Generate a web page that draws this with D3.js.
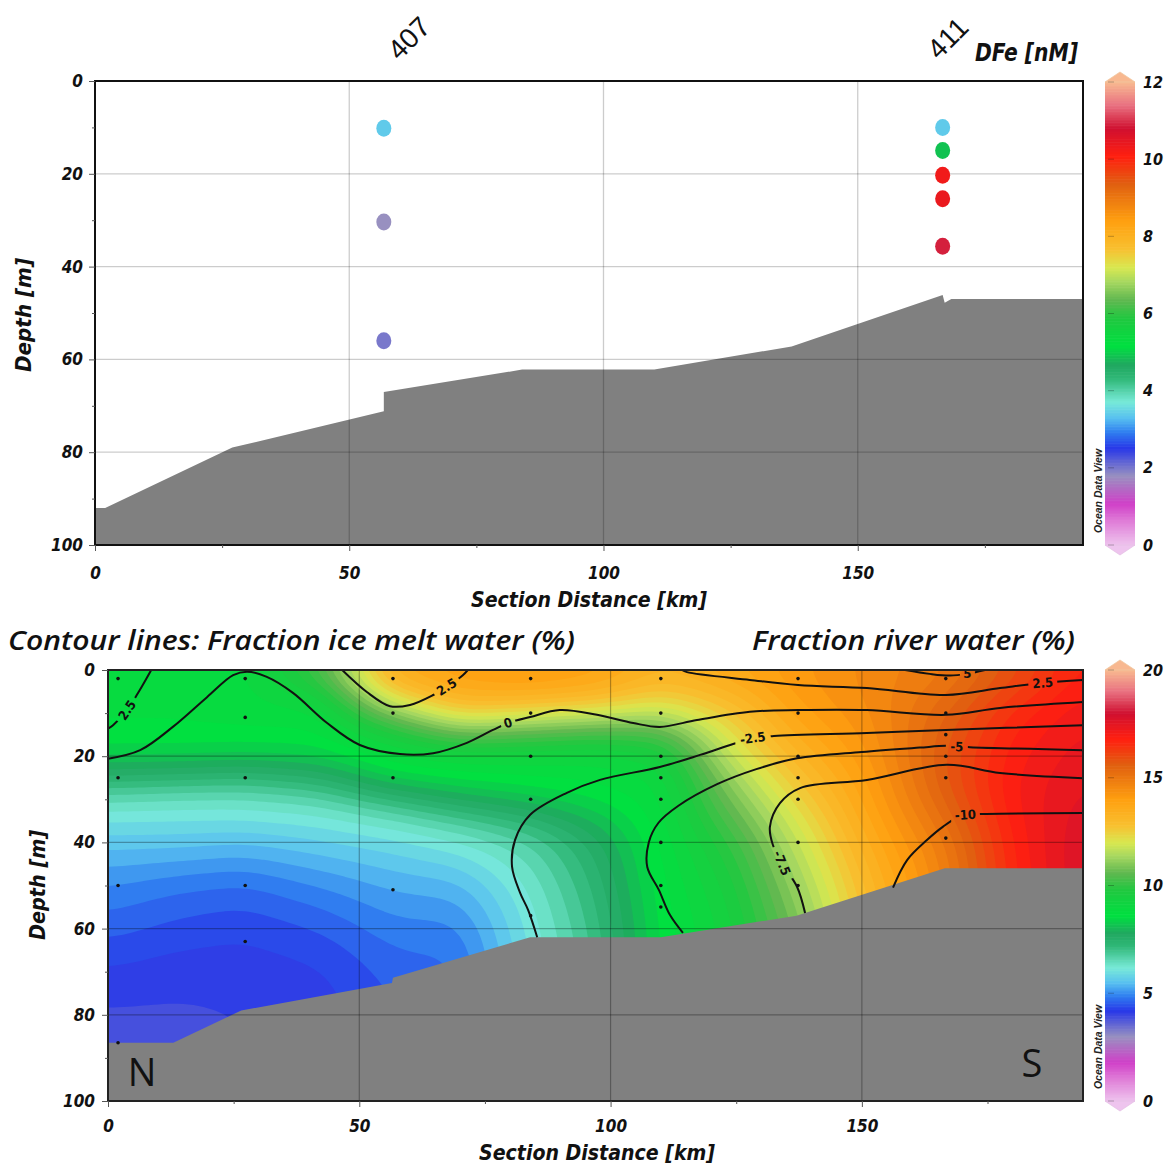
<!DOCTYPE html>
<html><head><meta charset="utf-8">
<script src="https://cdn.jsdelivr.net/npm/d3@7"></script>
<style>body{margin:0;background:#fff;}svg{display:block;}</style>
</head><body>
<svg id="chart" width="1167" height="1165"></svg>
<script>
// ---------------- DATA ----------------
// Top panel: dissolved iron (DFe, nM)
const feStationKm = [56.8, 56.8, 56.8, 166.7, 166.7, 166.7, 166.7, 166.7];
const feDepth     = [10.2, 30.4, 56.0, 10.0, 15.0, 20.3, 25.4, 35.6];
const feValue     = [3.4, 1.8, 2.0, 3.4, 4.9, 10.3, 10.4, 10.9];
const stationLabels = ["407", "411"];
const stationLabelKm = [56.8, 166.7];

// Bathymetry
const bathyTopKm    = [0, 2, 27, 56.8, 56.8, 84, 110, 137, 166.7, 167.1, 168.4, 194.3];
const bathyTopDepth = [92, 92, 79, 71.2, 67, 62.2, 62.2, 57.2, 46.1, 47.8, 47.0, 47.0];
const bathyBotKm    = [0, 13, 26.5, 56.5, 56.7, 84, 110, 137, 166.5, 194];
const bathyBotDepth = [86.5, 86.5, 79, 72.6, 71.4, 62, 62, 57, 46, 46];

// Bottom panel: fraction river water (%), gridded read-off (columns at km, rows at depth)
const riverKm    = [0, 14, 27, 42, 57, 70, 84, 97, 110, 124, 137, 152, 167, 180, 194];
const riverDepth = [0, 5, 10, 15, 20, 25, 30, 35, 40, 50, 60, 70, 80, 90];
const riverCols = [
  [8.8, 8.8, 8.8, 8.7, 8.4, 7.4, 6.5, 6.0, 5.6, 5.0, 4.6, 4.2, 3.95, 3.85],
  [8.8, 8.8, 8.8, 8.7, 8.4, 7.3, 6.4, 6.0, 5.6, 4.8, 4.4, 4.1, 3.95, 3.9],
  [8.9, 8.9, 8.9, 8.7, 8.3, 7.2, 6.4, 6.0, 5.5, 4.7, 4.3, 4.1, 4.0, 4.0],
  [10.5, 9.4, 8.9, 8.7, 8.4, 7.5, 6.6, 6.1, 5.7, 5.0, 4.5, 4.2, 4.1, 4.1],
  [13.8, 12.8, 11.0, 9.5, 8.9, 8.5, 7.2, 6.4, 5.9, 5.3, 4.9, 4.6, 4.5, 4.5],
  [14.0, 13.7, 12.6, 10.5, 9.0, 8.7, 7.8, 6.8, 6.2, 5.4, 4.9, 4.7, 4.6, 4.6],
  [14.2, 13.8, 12.2, 10.3, 9.0, 8.8, 8.2, 7.3, 6.7, 6.3, 6.1, 6.0, 6.0, 6.0],
  [14.0, 13.5, 12.0, 10.0, 9.0, 8.8, 8.6, 8.0, 7.6, 7.3, 7.1, 7.0, 7.0, 7.0],
  [13.4, 12.8, 11.6, 10.2, 9.3, 9.0, 8.9, 8.9, 8.8, 8.7, 8.6, 8.6, 8.6, 8.6],
  [13.8, 13.3, 12.7, 12.2, 11.8, 11.2, 10.8, 10.4, 10.0, 9.6, 9.4, 9.3, 9.3, 9.3],
  [14.2, 14.1, 13.9, 13.6, 13.2, 12.8, 12.4, 12.0, 11.7, 11.2, 10.8, 10.6, 10.6, 10.6],
  [14.6, 14.6, 14.5, 14.4, 14.3, 14.1, 14.0, 13.8, 13.6, 13.2, 13.0, 13.0, 13.0, 13.0],
  [14.9, 15.2, 15.5, 15.7, 15.8, 15.8, 15.6, 15.3, 15.0, 14.8, 14.8, 14.8, 14.8, 14.8],
  [15.8, 16.2, 16.6, 16.8, 16.9, 17.0, 17.0, 16.9, 16.8, 16.7, 16.7, 16.7, 16.7, 16.7],
  [16.8, 17.0, 17.2, 17.3, 17.4, 17.5, 17.6, 17.7, 17.8, 17.8, 17.8, 17.8, 17.8, 17.8]
];

// Sample positions (bottom panel)
const sampleKm = [2, 27.3, 56.7, 84.1, 110, 137.3, 166.7];
const sampleDepths = [
  [2, 25, 50, 86.5],
  [2, 11, 25, 50, 63],
  [2, 10, 25, 51],
  [2, 10, 20, 30, 57],
  [2, 10, 20, 25, 30, 40, 50, 55],
  [2, 10, 20, 25, 30, 40, 50],
  [2, 10, 15, 20, 25, 39]
];

// Ice melt contour lines (%), [km, depth]
const iceLevelP25a = [[8.6,0],[6.0,5.3],[3.8,9.3],[1.0,12.8],[0,13.6]];
const iceLevel0    = [[0,20.6],[6.4,18.6],[12.9,13.2],[19.7,6.3],[24.9,1.2],[27.7,0.4],[31.6,1.6],[36.8,5.3],[43.6,12.3],[50.1,17.4],[58.1,19.5],[64.7,19.3],[71.4,16.9],[76.6,13.9],[79.6,12.3],[84.0,10.9],[89.9,9.3],[97.3,10.4],[104.5,12.3],[109.8,13.2],[117.2,11.6],[127.7,9.7],[137.3,9.3],[151.0,9.3],[166.7,10.4],[177.5,8.8],[194,7.4]];
const iceLevelP25b = [[46.6,0],[51.5,5.1],[56.1,8.4],[60.1,8.1],[64.7,5.8],[67.4,3.9],[70.6,1.2],[71.6,0]];
const iceLevelP25c = [[114.2,0],[115.2,0.5],[127.7,2.3],[137.3,3.5],[151.0,4.2],[166.7,5.8],[177.5,4.2],[186.0,3.0],[194,2.3]];
const iceLevelP5   = [[158.6,0],[163.5,0.9],[167.5,1.3],[170.9,0.9],[174.5,0]];
const iceLevelM25  = [[85.4,62],[83.6,55.7],[82.0,51.7],[80.4,45.7],[81.0,39.4],[84.0,33.6],[91.3,28.5],[97.9,25.5],[109.8,22.5],[117.8,19.7],[123.8,17.4],[128.3,15.8],[132.5,15.3],[151.0,14.6],[166.7,13.9],[194,12.8]];
const iceLevelM5   = [[114.4,61],[111.8,56.8],[109.6,51],[107.3,45.7],[107.6,40],[109.5,35.5],[113.5,31.5],[121.2,26.5],[129,23],[137.1,20.5],[150,19],[161.5,18],[166.7,17.6],[168.9,17.7],[171.5,17.9],[194,18.6]];
const iceLevelM75  = [[138.7,56.4],[137.1,50.3],[134.1,44.8],[132.3,40.6],[131.7,36.4],[133.7,30.9],[137.7,27.4],[151,25.5],[166.9,22.0],[177.5,23.9],[194,25.1]];
const iceLevelM10  = [[156.2,50.5],[159,44.1],[163,39.4],[166.1,36.4],[170.1,33.6],[173.5,33.4],[194,33.2]];
const iceLines = [iceLevelP25a, iceLevel0, iceLevelP25b, iceLevelP25c, iceLevelP5, iceLevelM25, iceLevelM5, iceLevelM75, iceLevelM10];
const iceLabelText = ["2.5", "2.5", "0", "-2.5", "5", "2.5", "-5", "-7.5", "-10"];
const iceLabelKm   = [3.8, 67.4, 79.6, 128.3, 171.0, 186.0, 168.9, 134.1, 170.6];
const iceLabelDep  = [9.3, 3.9, 12.3, 15.8, 0.8, 3.0, 17.8, 44.8, 33.6];
const iceLabelRot  = [-55, -32, -18, -8, 0, -4, 2, 68, -3];

// Colour bar ticks
const feTicks = [0, 2, 4, 6, 8, 10, 12];
const riverTicks = [0, 5, 10, 15, 20];

// ODV-like colour map
const cmapT = [0.00, 0.05, 0.09, 0.15, 0.21, 0.245, 0.275, 0.31, 0.36, 0.39, 0.43, 0.49, 0.53, 0.57, 0.60, 0.64, 0.70, 0.78, 0.84, 0.90, 0.95, 1.00];
const cmapC = ["#eec4ee","#e080d8","#d040c8","#9890c0","#2838e8","#3080f0","#58c0f0","#78ead8","#30b878","#20a860","#00e040","#20c840","#60b850","#a8d860","#d8e850","#f8c030","#ffa010","#e06010","#ff2010","#d01030","#e87080","#f8b890"];

// ---------------- DRAW ----------------
const W = 1167, H = 1165;
const svg = d3.select("#chart");
const defs = svg.append("defs");
const axisFont = "'Liberation Sans Narrow','Arial Narrow','DejaVu Sans Condensed',sans-serif";
const makeColor = max => d3.scaleLinear().domain(cmapT.map(t => t * max)).range(cmapC).interpolate(d3.interpolateRgb).clamp(true);
const colorFe = makeColor(12), colorRiver = makeColor(20);

function styleAxis(g, size) {
  g.select(".domain").remove();
  g.selectAll(".tick line").attr("stroke", "#555").attr("stroke-width", 1);
  g.selectAll(".tick text").attr("font-family", axisFont).attr("font-weight", "bold")
    .attr("font-style", "italic").attr("font-size", size || 17).attr("fill", "#111");
}
function boldItalic(sel, size) {
  return sel.attr("font-family", axisFont).attr("font-weight", "bold").attr("font-style", "italic").attr("font-size", size).attr("fill", "#111");
}

// ===== TOP PANEL =====
const xT = d3.scaleLinear([0, 194.3], [95, 1083]);
const yT = d3.scaleLinear([0, 100], [81, 545]);
const gT = svg.append("g");
const areaT = d3.area().x(d => xT(d[0])).y0(yT(100)).y1(d => yT(d[1]));
gT.append("path").datum(d3.zip(bathyTopKm, bathyTopDepth)).attr("d", areaT).attr("fill", "#808080");
[50, 100, 150].forEach(v => gT.append("line").attr("x1", xT(v)).attr("x2", xT(v)).attr("y1", yT(0)).attr("y2", yT(100)).attr("stroke", "rgba(0,0,0,0.2)").attr("stroke-width", 1.3));
[20, 40, 60, 80].forEach(v => gT.append("line").attr("x1", xT(0)).attr("x2", xT(194.3)).attr("y1", yT(v)).attr("y2", yT(v)).attr("stroke", "rgba(0,0,0,0.2)").attr("stroke-width", 1.3));
gT.selectAll("ellipse.fe").data(feValue).join("ellipse")
  .attr("cx", (d, i) => xT(feStationKm[i])).attr("cy", (d, i) => yT(feDepth[i]))
  .attr("rx", 7.5).attr("ry", 8.5).attr("fill", d => colorFe(d));
gT.append("rect").attr("x", xT(0)).attr("y", yT(0)).attr("width", xT(194.3) - xT(0)).attr("height", yT(100) - yT(0))
  .attr("fill", "none").attr("stroke", "#111").attr("stroke-width", 2);
const axTL = gT.append("g").attr("transform", `translate(${xT(0)},0)`).call(d3.axisLeft(yT).tickValues([0,20,40,60,80,100]).tickSize(6).tickPadding(6));
styleAxis(axTL);
const axTLm = gT.append("g").attr("transform", `translate(${xT(0)},0)`).call(d3.axisLeft(yT).tickValues([10,30,50,70,90]).tickSize(3).tickFormat(""));
styleAxis(axTLm);
const axTB = gT.append("g").attr("transform", `translate(0,${yT(100)})`).call(d3.axisBottom(xT).tickValues([0,50,100,150]).tickSize(6).tickPadding(16));
styleAxis(axTB);
const axTBm = gT.append("g").attr("transform", `translate(0,${yT(100)})`).call(d3.axisBottom(xT).tickValues([25,75,125,175]).tickSize(3).tickFormat(""));
styleAxis(axTBm);
boldItalic(gT.append("text").attr("transform", "translate(31,315) rotate(-90)").attr("text-anchor", "middle")
  .attr("textLength", 114).attr("lengthAdjust", "spacingAndGlyphs"), 21).text("Depth [m]");
boldItalic(gT.append("text").attr("x", 589).attr("y", 607).attr("text-anchor", "middle")
  .attr("textLength", 236).attr("lengthAdjust", "spacingAndGlyphs"), 22).text("Section Distance [km]");
const stationLabelDx = [25, 5];
stationLabels.forEach((s, i) => gT.append("text")
  .attr("transform", `translate(${xT(stationLabelKm[i]) + stationLabelDx[i]},${38}) rotate(-45)`).attr("text-anchor", "middle").attr("dy", "0.35em")
  .attr("font-family", "'Liberation Sans',Arial,sans-serif").attr("font-size", 28).attr("fill", "#111").text(s));
boldItalic(gT.append("text").attr("x", 975).attr("y", 61)
  .attr("textLength", 103).attr("lengthAdjust", "spacingAndGlyphs"), 25).text("DFe [nM]");

// ===== COLOUR BARS =====
function colorBar(scaleV, yScale, maxV, ticks, odvY) {
  const g = svg.append("g");
  const x0 = 1105, w = 30;
  const steps = d3.range(0, 300);
  g.selectAll("rect").data(steps).join("rect")
    .attr("x", x0).attr("width", w)
    .attr("y", d => yScale(maxV * (d + 1) / 300)).attr("height", d => Math.abs(yScale(maxV * d / 300) - yScale(maxV * (d + 1) / 300)) + 0.6)
    .attr("fill", d => scaleV(maxV * (d + 0.5) / 300));
  const yTop = yScale(maxV), yBot = yScale(0);
  g.append("path").attr("d", `M${x0},${yTop}L${x0 + w / 2},${yTop - 10}L${x0 + w},${yTop}Z`).attr("fill", scaleV(maxV)).attr("stroke", "#f0c8a0").attr("stroke-width", 0.8);
  g.append("path").attr("d", `M${x0},${yBot}L${x0 + w / 2},${yBot + 10}L${x0 + w},${yBot}Z`).attr("fill", scaleV(0)).attr("stroke", "#e4c0e4").attr("stroke-width", 0.8);
  ticks.forEach(t => {
    g.append("line").attr("x1", x0 + 3).attr("x2", x0 + 9).attr("y1", yScale(t)).attr("y2", yScale(t)).attr("stroke", "rgba(0,0,0,0.25)");
    boldItalic(g.append("text").attr("x", 1143).attr("y", yScale(t)).attr("dy", "0.35em"), 16).text(t);
  });
  g.append("text").attr("transform", `translate(1098,${odvY}) rotate(-90)`).attr("text-anchor", "middle").attr("dy", "0.35em")
    .attr("font-family", "'Liberation Sans',Arial,sans-serif").attr("font-weight", "bold").attr("font-style", "italic").attr("font-size", 10.5).attr("fill", "#222").text("Ocean Data View");
}
colorBar(colorFe, d3.scaleLinear([0, 12], [545, 82]), 12, feTicks, 491);
colorBar(colorRiver, d3.scaleLinear([0, 20], [1101, 670]), 20, riverTicks, 1047);

// ===== BOTTOM PANEL =====
const xB = d3.scaleLinear([0, 194], [108, 1083]);
const yB = d3.scaleLinear([0, 100], [670, 1101]);
defs.append("clipPath").attr("id", "clipB").append("rect")
  .attr("x", xB(0)).attr("y", yB(0)).attr("width", xB(194) - xB(0)).attr("height", yB(100) - yB(0));
const gB = svg.append("g");
const gF = gB.append("g").attr("clip-path", "url(#clipB)");

// Grid the read-off field (bilinear) and smooth slightly, then band it with d3.contours
const nx = 195, ny = 91;
const values = new Float64Array(nx * ny);
const bisK = d3.bisector(d => d).right;
for (let j = 0; j < ny; j++) {
  const dep = j;
  let r = Math.min(Math.max(bisK(riverDepth, dep) - 1, 0), riverDepth.length - 2);
  const fy = (dep - riverDepth[r]) / (riverDepth[r + 1] - riverDepth[r]);
  for (let i = 0; i < nx; i++) {
    const km = i;
    let c = Math.min(Math.max(bisK(riverKm, km) - 1, 0), riverKm.length - 2);
    const fx = (km - riverKm[c]) / (riverKm[c + 1] - riverKm[c]);
    const v00 = riverCols[c][r], v10 = riverCols[c + 1][r], v01 = riverCols[c][r + 1], v11 = riverCols[c + 1][r + 1];
    values[j * nx + i] = (v00 * (1 - fx) + v10 * fx) * (1 - fy) + (v01 * (1 - fx) + v11 * fx) * fy;
  }
}
if (d3.blur2) d3.blur2({data: values, width: nx}, 3);
const thresholds = d3.range(0, 20.001, 0.25);
const bands = d3.contours().size([nx, ny]).thresholds(thresholds)(Array.from(values));
const proj = d3.geoTransform({point(x, y) { this.stream.point(xB(x - 0.5), yB(y - 0.5)); }});
const gpath = d3.geoPath(proj);
gF.append("rect").attr("x", xB(0)).attr("y", yB(0)).attr("width", xB(194) - xB(0)).attr("height", yB(92) - yB(0)).attr("fill", colorRiver(3.9));
gF.selectAll("path.band").data(bands).join("path").attr("class", "band")
  .attr("d", gpath).attr("fill", d => colorRiver(d.value + 0.125));

const areaB = d3.area().x(d => xB(d[0])).y0(yB(100)).y1(d => yB(d[1]));
gF.append("path").datum(d3.zip(bathyBotKm, bathyBotDepth)).attr("d", areaB).attr("fill", "#808080");
[50, 100, 150].forEach(v => gF.append("line").attr("x1", xB(v)).attr("x2", xB(v)).attr("y1", yB(0)).attr("y2", yB(100)).attr("stroke", "rgba(0,0,0,0.3)").attr("stroke-width", 1.2));
[20, 40, 60, 80].forEach(v => gF.append("line").attr("x1", xB(0)).attr("x2", xB(194)).attr("y1", yB(v)).attr("y2", yB(v)).attr("stroke", "rgba(0,0,0,0.3)").attr("stroke-width", 1.2));

// sample dots
sampleKm.forEach((k, i) => sampleDepths[i].forEach(d => gF.append("circle").attr("cx", xB(k)).attr("cy", yB(d)).attr("r", 1.8).attr("fill", "#111")));

// contour lines with label gaps
const mask = defs.append("mask").attr("id", "lblMask").attr("maskUnits", "userSpaceOnUse").attr("x", 0).attr("y", 0).attr("width", W).attr("height", H);
mask.append("rect").attr("width", W).attr("height", H).attr("fill", "white");
iceLabelText.forEach((t, i) => {
  const w = t.length * 7 + 8;
  mask.append("rect").attr("x", -w / 2).attr("y", -8).attr("width", w).attr("height", 16).attr("fill", "black")
    .attr("transform", `translate(${xB(iceLabelKm[i])},${yB(iceLabelDep[i])}) rotate(${iceLabelRot[i]})`);
});
const lineGen = d3.line().x(d => xB(d[0])).y(d => yB(d[1])).curve(d3.curveCatmullRom.alpha(0.5));
const gL = gF.append("g").attr("mask", "url(#lblMask)");
gL.selectAll("path").data(iceLines).join("path").attr("d", lineGen).attr("fill", "none").attr("stroke", "#111").attr("stroke-width", 2);
iceLabelText.forEach((t, i) => gF.append("text")
  .attr("transform", `translate(${xB(iceLabelKm[i])},${yB(iceLabelDep[i])}) rotate(${iceLabelRot[i]})`)
  .attr("text-anchor", "middle").attr("dy", "0.35em")
  .attr("font-family", axisFont).attr("font-weight", "bold").attr("font-size", 13).attr("fill", "#111").text(t));

// frame and axes
gB.append("rect").attr("x", xB(0)).attr("y", yB(0)).attr("width", xB(194) - xB(0)).attr("height", yB(100) - yB(0))
  .attr("fill", "none").attr("stroke", "#222").attr("stroke-width", 2);
const axBL = gB.append("g").attr("transform", `translate(${xB(0)},0)`).call(d3.axisLeft(yB).tickValues([0,20,40,60,80,100]).tickSize(6).tickPadding(7));
styleAxis(axBL);
const axBLm = gB.append("g").attr("transform", `translate(${xB(0)},0)`).call(d3.axisLeft(yB).tickValues([10,30,50,70,90]).tickSize(3).tickFormat(""));
styleAxis(axBLm);
const axBB = gB.append("g").attr("transform", `translate(0,${yB(100)})`).call(d3.axisBottom(xB).tickValues([0,50,100,150]).tickSize(6).tickPadding(13));
styleAxis(axBB);
const axBBm = gB.append("g").attr("transform", `translate(0,${yB(100)})`).call(d3.axisBottom(xB).tickValues([25,75,125,175]).tickSize(3).tickFormat(""));
styleAxis(axBBm);
boldItalic(gB.append("text").attr("transform", "translate(45,885) rotate(-90)").attr("text-anchor", "middle")
  .attr("textLength", 110).attr("lengthAdjust", "spacingAndGlyphs"), 21).text("Depth [m]");
boldItalic(gB.append("text").attr("x", 597).attr("y", 1160).attr("text-anchor", "middle")
  .attr("textLength", 236).attr("lengthAdjust", "spacingAndGlyphs"), 22).text("Section Distance [km]");
gB.append("text").attr("x", 8).attr("y", 650).attr("textLength", 567).attr("lengthAdjust", "spacingAndGlyphs")
  .attr("font-family", "'Open Sans',Lato,sans-serif").attr("font-style", "italic").attr("font-weight", 600).attr("font-size", 27).attr("fill", "#111")
  .text("Contour lines: Fraction ice melt water (%)");
gB.append("text").attr("x", 752).attr("y", 650).attr("textLength", 323).attr("lengthAdjust", "spacingAndGlyphs")
  .attr("font-family", "'Open Sans',Lato,sans-serif").attr("font-style", "italic").attr("font-weight", 600).attr("font-size", 27).attr("fill", "#111")
  .text("Fraction river water (%)");
gB.append("text").attr("x", 142).attr("y", 1086).attr("text-anchor", "middle")
  .attr("font-family", "'Open Sans',Lato,sans-serif").attr("font-size", 38).attr("fill", "#111").text("N");
gB.append("text").attr("x", 1032).attr("y", 1077).attr("text-anchor", "middle")
  .attr("font-family", "'Open Sans',Lato,sans-serif").attr("font-size", 38).attr("fill", "#111").text("S");
</script>
</body></html>
